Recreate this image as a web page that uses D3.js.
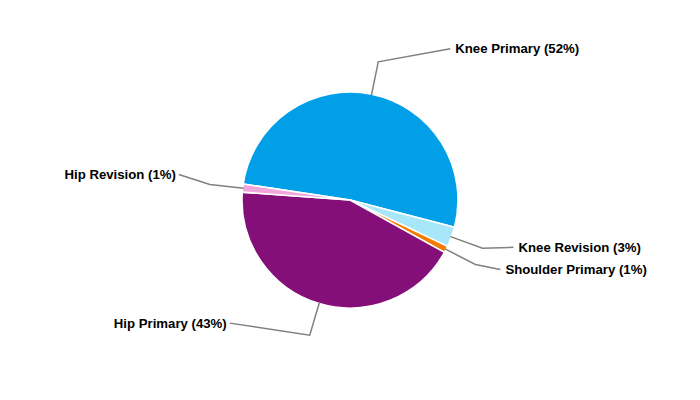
<!DOCTYPE html>
<html>
<head>
<meta charset="utf-8">
<script src="https://cdn.jsdelivr.net/npm/d3@7"></script>
<style>
html,body{margin:0;padding:0;background:#fff;}
svg{display:block;}
</style>
</head>
<body>
<svg id="chart" width="700" height="400"></svg>
<script>
// Data
const categories = ["Knee Primary", "Knee Revision", "Shoulder Primary", "Hip Primary", "Hip Revision"];
const values = [51.7, 3.0, 1.0, 43.1, 1.2];
const colors = ["#009fe8", "#a8e6fa", "#f07d00", "#850f78", "#f0a6da"];

// Layout (label end offsets from the elbow point, in px)
const labelOffsets = [[72, -13], [31, -1], [25, 5], [-80, -12], [-31, -10]];

const width = 700, height = 400;
const cx = 350, cy = 200, r = 108, elbowR = 141;
const startDeg = -81.5;

const svg = d3.select("#chart");
const g = svg.append("g").attr("transform", `translate(${cx},${cy})`);

const data = categories.map((c, i) => ({ name: c, value: values[i], color: colors[i], off: labelOffsets[i] }));

const pie = d3.pie()
  .sort(null)
  .value(d => d.value)
  .startAngle(startDeg * Math.PI / 180)
  .endAngle((startDeg + 360) * Math.PI / 180);

const arcs = pie(data);
const arc = d3.arc().innerRadius(0).outerRadius(r);

g.selectAll("path.slice")
  .data(arcs)
  .join("path")
  .attr("class", "slice")
  .attr("d", arc)
  .attr("fill", d => d.data.color)
  .attr("stroke", "#fff")
  .attr("stroke-width", 1.6)
  .attr("stroke-linejoin", "round");

const total = d3.sum(values);

arcs.forEach(a => {
  const mid = (a.startAngle + a.endAngle) / 2;
  const p0 = [Math.sin(mid) * (r - 1), -Math.cos(mid) * (r - 1)];
  const p1 = [Math.sin(mid) * elbowR, -Math.cos(mid) * elbowR];
  const p2 = [p1[0] + a.data.off[0], p1[1] + a.data.off[1]];
  g.append("polyline")
    .attr("points", [p0, p1, p2].map(p => p.join(",")).join(" "))
    .attr("fill", "none")
    .attr("stroke", "#808080")
    .attr("stroke-width", 1.5);
  const right = a.data.off[0] > 0;
  g.append("text")
    .attr("x", p2[0] + (right ? 5 : -3))
    .attr("y", p2[1])
    .attr("dy", "0.35em")
    .attr("text-anchor", right ? "start" : "end")
    .attr("font-family", "Arial, 'Liberation Sans', sans-serif")
    .attr("font-weight", "bold")
    .attr("font-size", "13.2px")
    .attr("fill", "#000")
    .text(`${a.data.name} (${Math.round(a.data.value / total * 100)}%)`);
});
</script>
</body>
</html>
